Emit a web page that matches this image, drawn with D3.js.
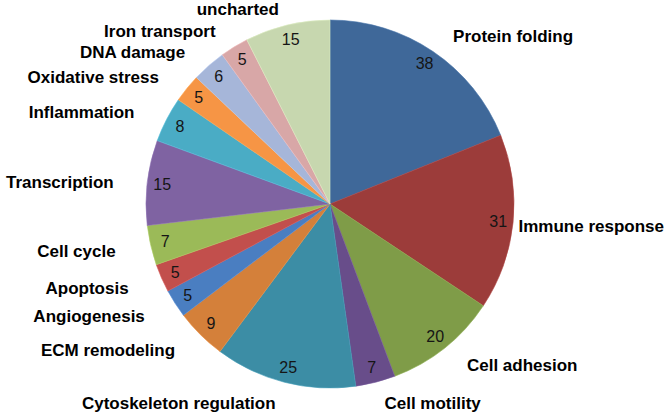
<!DOCTYPE html>
<html>
<head>
<meta charset="utf-8">
<script src="https://cdn.jsdelivr.net/npm/d3@7"></script>
<style>
  html, body { margin: 0; padding: 0; background: #ffffff; }
  svg { display: block; }
</style>
</head>
<body>
<svg id="chart" width="672" height="418"></svg>
<script>
const categories = ["Protein folding", "Immune response", "Cell adhesion", "Cell motility",
  "Cytoskeleton regulation", "ECM remodeling", "Angiogenesis", "Apoptosis", "Cell cycle",
  "Transcription", "Inflammation", "Oxidative stress", "DNA damage", "Iron transport", "uncharted"];
const values = [38, 31, 20, 7, 25, 9, 5, 5, 7, 15, 8, 5, 6, 5, 15];
const colors = ["#3F6899", "#9C3C3A", "#7F9C48", "#684D8A", "#3C8DA5", "#D4803A", "#4A7EC1",
  "#C24F4C", "#9BBA58", "#7F63A2", "#4AACC5", "#F69545", "#A6B6D9", "#D8A7A7", "#C7D7AF"];

const W = 672, H = 418;
const svg = d3.select("#chart");
const cx = 330, cy = 204, r = 184;
const data = categories.map((c, i) => ({ name: c, value: values[i], color: colors[i] }));

const pie = d3.pie().value(d => d.value).sort(null);
const arcs = pie(data);
const arc = d3.arc().innerRadius(0).outerRadius(r);
const numArc = d3.arc().innerRadius(169).outerRadius(169);

const g = svg.append("g").attr("transform", `translate(${cx},${cy})`);

g.selectAll("path.slice").data(arcs).enter().append("path")
  .attr("class", "slice")
  .attr("d", arc)
  .attr("fill", d => d.data.color)
  .attr("stroke", d => d3.color(d.data.color).brighter(0.3))
  .attr("stroke-width", 0.6);

g.selectAll("text.num").data(arcs).enter().append("text")
  .attr("class", "num")
  .attr("transform", d => `translate(${numArc.centroid(d)})`)
  .attr("text-anchor", "middle")
  .attr("dominant-baseline", "central")
  .attr("font-family", "'Liberation Sans', Arial, sans-serif")
  .attr("font-size", 16)
  .attr("fill", "#151515")
  .text(d => d.data.value);

// Outside category labels laid out on an ellipse round the pie, kept inside the chart area
const lrx = 220, lry = 204, lcy = cy + 2, lh = 17, margin = 8;
svg.selectAll("text.lab").data(arcs).enter().append("text")
  .attr("class", "lab")
  .attr("dominant-baseline", "central")
  .attr("font-family", "'Liberation Sans', Arial, sans-serif")
  .attr("font-weight", "bold")
  .attr("font-size", 17)
  .attr("fill", "#000")
  .text(d => d.data.name)
  .each(function(d) {
    const a = (d.startAngle + d.endAngle) / 2;
    const w = this.getComputedTextLength();
    const ax = cx + lrx * Math.sin(a), ay = lcy - lry * Math.cos(a);
    let left = Math.sin(a) >= 0 ? ax : ax - w;
    left = Math.max(margin - 2, Math.min(W - margin - w, left));
    const yc = Math.max(lh / 2 + 1, Math.min(H - lh / 2 - 2, ay));
    d3.select(this).attr("x", left).attr("y", yc).attr("text-anchor", "start");
  });
</script>
</body>
</html>
